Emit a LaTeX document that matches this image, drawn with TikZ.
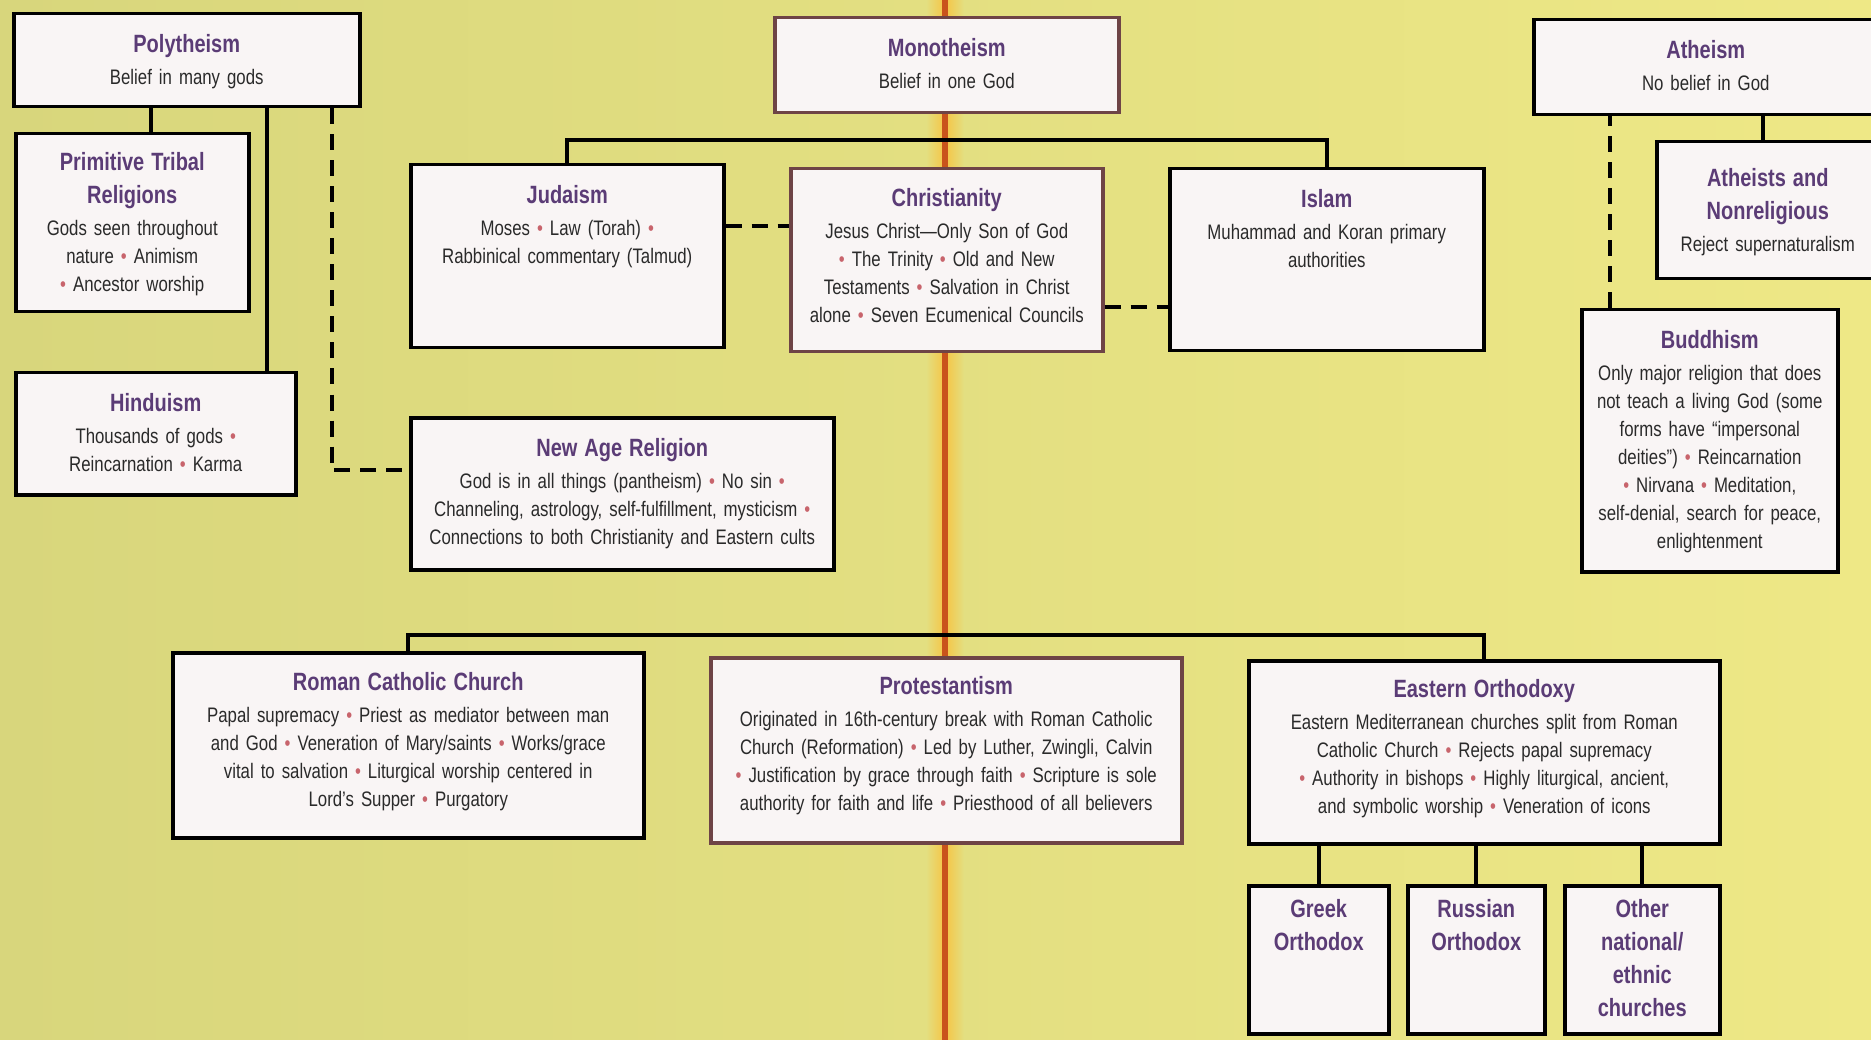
\documentclass[tikz,border=0pt]{standalone}
\usepackage{fontspec}
\setmainfont{Liberation Sans}[FakeStretch=0.8]

\definecolor{bgleft}{HTML}{D8D67C}
\definecolor{bgright}{HTML}{EEE886}
\definecolor{glow}{HTML}{F6C444}
\definecolor{redline}{HTML}{C9531C}
\definecolor{boxfill}{HTML}{F9F5F5}
\definecolor{keybrown}{HTML}{6E4446}
\definecolor{ttlpurple}{HTML}{5B3C76}
\definecolor{bodygray}{HTML}{2A2A2A}
\definecolor{bulred}{HTML}{C8646C}

\newcommand{\bodyfont}{\fontsize{21}{28}\selectfont}
\newcommand{\ttl}[1]{{\fontsize{25}{33}\selectfont\bfseries\color{ttlpurple}#1\par}\vspace{4pt}}
\newcommand{\bu}{\textcolor{bulred}{•}}

\begin{document}
\begin{tikzpicture}[x=1pt, y=-1pt,
  box/.style={draw=black, line width=3.5pt, fill=boxfill, inner sep=0pt, anchor=north west},
  keybox/.style={box, draw=keybrown},
  txt/.style={anchor=north, inner sep=0pt, text width=520pt, align=center, text=bodygray, font=\bodyfont},
  link/.style={line width=4pt},
  dashlink/.style={line width=4pt, dash pattern=on 16pt off 10pt}]
  \useasboundingbox (0,0) rectangle (1871,1040);
  \clip (0,0) rectangle (1871,1040);

  % background and the red axis
  \fill[left color=bgleft, right color=bgright] (0,0) rectangle (1871,1040);
  \fill[left color=bgleft!50!bgright, right color=bgleft!50!bgright, middle color=glow] (926,0) rectangle (964,1040);
  \draw[line width=6pt, redline] (945,0) -- (945,1040);

  % top row
  \node[box, minimum width=346pt, minimum height=93pt] (poly) at (12,12) {};
  \node[txt] (polyt) at ([yshift=-22pt]poly.north) {\ttl{Polytheism}Belief in many gods};
  \node[keybox, minimum width=344pt, minimum height=95pt] (mono) at (773,16) {};
  \node[txt] (monot) at ([yshift=-22pt]mono.north) {\ttl{Monotheism}Belief in one God};
  \node[box, minimum width=344pt, minimum height=95pt] (ath) at (1532,18) {};
  \node[txt] (atht) at ([yshift=-22pt]ath.north) {\ttl{Atheism}No belief in God};

  % polytheism branch
  \node[box, minimum width=233pt, minimum height=178pt] (prim) at (14,132) {};
  \node[txt] (primt) at ([yshift=-20pt]prim.north) {\ttl{Primitive Tribal\\Religions}Gods seen throughout\\nature \bu\ Animism\\\bu\ Ancestor worship};
  \node[box, minimum width=280pt, minimum height=122pt] (hin) at (14,371) {};
  \node[txt] (hint) at ([yshift=-22pt]hin.north) {\ttl{Hinduism}Thousands of gods \bu\\Reincarnation \bu\ Karma};

  % monotheism branch
  \node[box, minimum width=313pt, minimum height=183pt] (jud) at (409,163) {};
  \node[txt] (judt) at ([yshift=-22pt]jud.north) {\ttl{Judaism}Moses \bu\ Law (Torah) \bu\\Rabbinical commentary (Talmud)};
  \node[keybox, minimum width=312pt, minimum height=183pt] (chr) at (789,167) {};
  \node[txt] (chrt) at ([yshift=-21pt]chr.north) {\ttl{Christianity}Jesus Christ—Only Son of God\\\bu\ The Trinity \bu\ Old and New\\Testaments \bu\ Salvation in Christ\\alone \bu\ Seven Ecumenical Councils};
  \node[box, minimum width=314pt, minimum height=182pt] (isl) at (1168,167) {};
  \node[txt] (islt) at ([yshift=-22pt]isl.north) {\ttl{Islam}Muhammad and Koran primary\\authorities};
  \node[box, minimum width=423pt, minimum height=152pt] (newage) at (409,416) {};
  \node[txt] (newaget) at ([yshift=-22pt]newage.north) {\ttl{New Age Religion}God is in all things (pantheism) \bu\ No sin \bu\\Channeling, astrology, self-fulfillment, mysticism \bu\\Connections to both Christianity and Eastern cults};

  % atheism branch
  \node[box, minimum width=222pt, minimum height=137pt] (athn) at (1655,140) {};
  \node[txt] (athnt) at ([yshift=-28pt]athn.north) {\ttl{Atheists and\\Nonreligious}Reject supernaturalism};
  \node[box, minimum width=256pt, minimum height=262pt] (bud) at (1580,308) {};
  \node[txt] (budt) at ([yshift=-22pt]bud.north) {\ttl{Buddhism}Only major religion that does\\not teach a living God (some\\forms have “impersonal\\deities”) \bu\ Reincarnation\\\bu\ Nirvana \bu\ Meditation,\\self-denial, search for peace,\\enlightenment};

  % christian churches
  \node[box, minimum width=471pt, minimum height=185pt] (rcc) at (171,651) {};
  \node[txt] (rcct) at ([yshift=-21pt]rcc.north) {\ttl{Roman Catholic Church}Papal supremacy \bu\ Priest as mediator between man\\and God \bu\ Veneration of Mary/saints \bu\ Works/grace\\vital to salvation \bu\ Liturgical worship centered in\\Lord’s Supper \bu\ Purgatory};
  \node[keybox, minimum width=471pt, minimum height=185pt] (prot) at (709,656) {};
  \node[txt] (prott) at ([yshift=-20pt]prot.north) {\ttl{Protestantism}Originated in 16th-century break with Roman Catholic\\Church (Reformation) \bu\ Led by Luther, Zwingli, Calvin\\\bu\ Justification by grace through faith \bu\ Scripture is sole\\authority for faith and life \bu\ Priesthood of all believers};
  \node[box, minimum width=471pt, minimum height=183pt] (eo) at (1247,659) {};
  \node[txt] (eot) at ([yshift=-20pt]eo.north) {\ttl{Eastern Orthodoxy}Eastern Mediterranean churches split from Roman\\Catholic Church \bu\ Rejects papal supremacy\\\bu\ Authority in bishops \bu\ Highly liturgical, ancient,\\and symbolic worship \bu\ Veneration of icons};

  \node[box, minimum width=140pt, minimum height=148pt] (greek) at (1247,884) {};
  \node[txt] (greekt) at ([yshift=-15pt]greek.north) {\ttl{Greek\\Orthodox}};
  \node[box, minimum width=137pt, minimum height=148pt] (russ) at (1406,884) {};
  \node[txt] (russt) at ([yshift=-15pt]russ.north) {\ttl{Russian\\Orthodox}};
  \node[box, minimum width=155pt, minimum height=148pt] (other) at (1563,884) {};
  \node[txt] (othert) at ([yshift=-15pt]other.north) {\ttl{Other\\national/\\ethnic\\churches}};

  % connectors
  \coordinate (mbar) at (945,140);
  \coordinate (cbar) at (945,635);
  \draw[link] ([xshift=19pt]prim.north) -- ([xshift=19pt]prim.north |- poly.south);
  \draw[link] ([xshift=111pt]hin.north) -- ([xshift=111pt]hin.north |- poly.south);
  \draw[dashlink] ([xshift=-30pt]poly.south east) |- ([yshift=24pt]newage.west);
  \draw[link] (jud.north) |- (mbar) -| (isl.north);
  \draw[dashlink] ([yshift=30pt]jud.east) -- ([yshift=30pt]jud.east -| chr.west);
  \draw[dashlink] ([yshift=-47pt]chr.east) -- ([yshift=-47pt]chr.east -| isl.west);
  \draw[link] ([xshift=-5pt]athn.north) -- ([xshift=-5pt]athn.north |- ath.south);
  \draw[dashlink] ([xshift=30pt]bud.north west) -- ([xshift=30pt]bud.north west |- ath.south);
  \draw[link] (rcc.north) |- (cbar) -| (eo.north);
  \foreach \c in {greek,russ,other}
    \draw[link] (\c.north) -- (\c.north |- eo.south);
\end{tikzpicture}
\end{document}
